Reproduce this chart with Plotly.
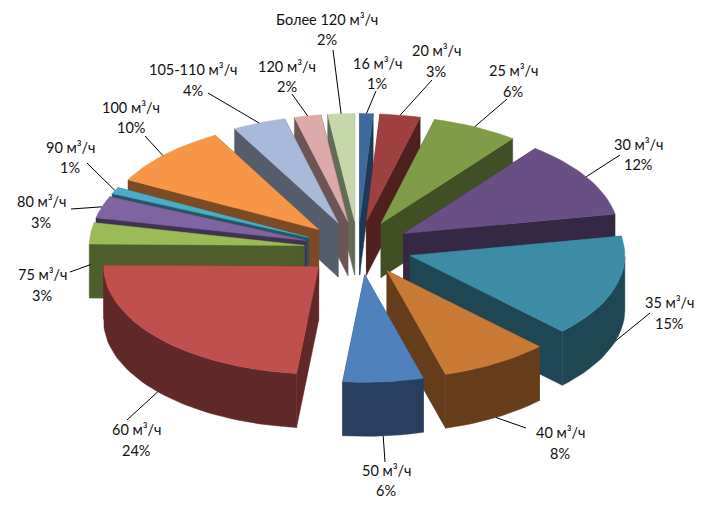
import math
import plotly.graph_objects as go

# ---- data ----
categories = ["16 м³/ч", "20 м³/ч", "25 м³/ч", "30 м³/ч", "35 м³/ч", "40 м³/ч", "50 м³/ч",
              "60 м³/ч", "75 м³/ч", "80 м³/ч", "90 м³/ч", "100 м³/ч", "105-110 м³/ч",
              "120 м³/ч", "Более 120 м³/ч"]
shares = [1, 3, 6, 12, 15, 8, 6, 24, 3, 3, 1, 10, 4, 2, 2]

# ---- styles ----
top_colors = ["#3E6A9E", "#9E413E", "#7F9D48", "#6A4F85", "#3D8CA5", "#C97B36", "#4F81BD",
              "#C0504D", "#9BBB59", "#8064A2", "#4BACC6", "#F79646", "#A9B9D9", "#DBAAA9", "#C6D7AB"]
wall_colors = ["#1F3854", "#50201F", "#414F24", "#352843", "#1E4653", "#653D1B", "#28405E",
               "#602826", "#4E5E2C", "#403251", "#265663", "#7C4B23", "#555D6D", "#6E5555", "#636C55"]

# ---- projection of the exploded tilted pie ----
CX, CY = 358, 248
RADIUS, TILT, EXPLODE, DEPTH = 215, 0.5, 54, 54
FRONT_SKEW = 2.3  # degrees of apparent rotation of the near side (perspective)
# label centre (x, first line y, second line y) and the free end of each leader
label_pos = [(377, 63, 83), (436, 50, 71), (513, 70, 91), (638, 144, 164), (669, 302, 323),
             (560, 432, 453), (386, 470, 490), (136, 429, 450), (42, 274, 295), (41, 201, 222),
             (70, 147, 167), (131, 107, 127), (193, 69, 90), (287, 66, 86), (327, 19, 39)]
leader_end = [(376, 91), (432, 80), (507, 99), (620, 155), (650, 313), (526, 428), (385, 462),
              (127, 420), (70, 272), (71, 209), (87, 163), (145, 136), (208, 93), (292, 94), (333, 50)]
leader_drop = [0, 0, 0, 0, DEPTH, DEPTH, DEPTH, DEPTH, 31, 0, 0, 0, 0, 0, 0]


def rim(ax, ay, deg, r=RADIUS):
    skew = FRONT_SKEW * ((1 - math.cos(math.radians(deg))) / 2) ** 2
    skew += 1.9 * math.exp(-((deg - 40) / 14) ** 2)
    skew += 2.2 * math.exp(-((deg - 293) / 14) ** 2)
    a = math.radians(deg + skew)
    return ax + r * math.sin(a), ay - r * TILT * math.cos(a)


total = sum(shares)
slices = []
acc = 0
for i, v in enumerate(shares):
    a0 = acc / total * 360
    a1 = (acc + v) / total * 360
    acc += v
    mid = (a0 + a1) / 2
    a = math.radians(mid)
    ax, ay = CX + EXPLODE * math.sin(a), CY - EXPLODE * TILT * math.cos(a)
    slices.append(dict(i=i, a0=a0, a1=a1, mid=mid, ax=ax, ay=ay))

fig = go.Figure()


def poly(pts, color):
    xs = [p[0] for p in pts] + [pts[0][0]]
    ys = [p[1] for p in pts] + [pts[0][1]]
    fig.add_trace(go.Scatter(x=xs, y=ys, mode="lines", fill="toself", fillcolor=color,
                             line=dict(color=color, width=0.5), hoverinfo="skip", showlegend=False))


for s in sorted(slices, key=lambda d: d["ay"]):
    ax, ay, a0, a1 = s["ax"], s["ay"], s["a0"], s["a1"]
    wall, top = wall_colors[s["i"]], top_colors[s["i"]]
    for ang in (a0, a1):
        p = rim(ax, ay, ang)
        poly([(ax, ay), p, (p[0], p[1] + DEPTH), (ax, ay + DEPTH)], wall)
    lo, hi = max(a0, 90), min(a1, 270)
    if hi > lo:
        n = max(2, int((hi - lo) / 2) + 1)
        arc = [rim(ax, ay, lo + (hi - lo) * k / (n - 1)) for k in range(n)]
        poly(arc + [(x, y + DEPTH) for x, y in reversed(arc)], wall)
    n = max(2, int((a1 - a0) / 2) + 1)
    arc = [rim(ax, ay, a0 + (a1 - a0) * k / (n - 1)) for k in range(n)]
    poly([(ax, ay)] + arc, top)

# leaders from the slice edge to the label
for s in slices:
    x, y = rim(s["ax"], s["ay"], s["mid"])
    y += leader_drop[s["i"]]
    ex, ey = leader_end[s["i"]]
    fig.add_trace(go.Scatter(x=[x, ex], y=[y, ey], mode="lines", line=dict(color="#000000", width=1),
                             hoverinfo="skip", showlegend=False))

for name, v, (lx, y1, y2) in zip(categories, shares, label_pos):
    for txt, yy in ((name, y1), (f"{v}%", y2)):
        fig.add_annotation(x=lx, y=yy, text=txt, showarrow=False, xanchor="center", yanchor="middle",
                           font=dict(family="Lato, Carlito, sans-serif", size=14.5, color="#111111"))

fig.update_layout(width=701, height=505, margin=dict(l=0, r=0, t=0, b=0),
                  paper_bgcolor="white", plot_bgcolor="white", showlegend=False,
                  xaxis=dict(range=[0, 701], visible=False, fixedrange=True),
                  yaxis=dict(range=[505, 0], visible=False, fixedrange=True))
fig.write_html("out.html", config=dict(displayModeBar=False),
               post_script="document.body.style.margin='0';document.documentElement.style.overflow='hidden';")
